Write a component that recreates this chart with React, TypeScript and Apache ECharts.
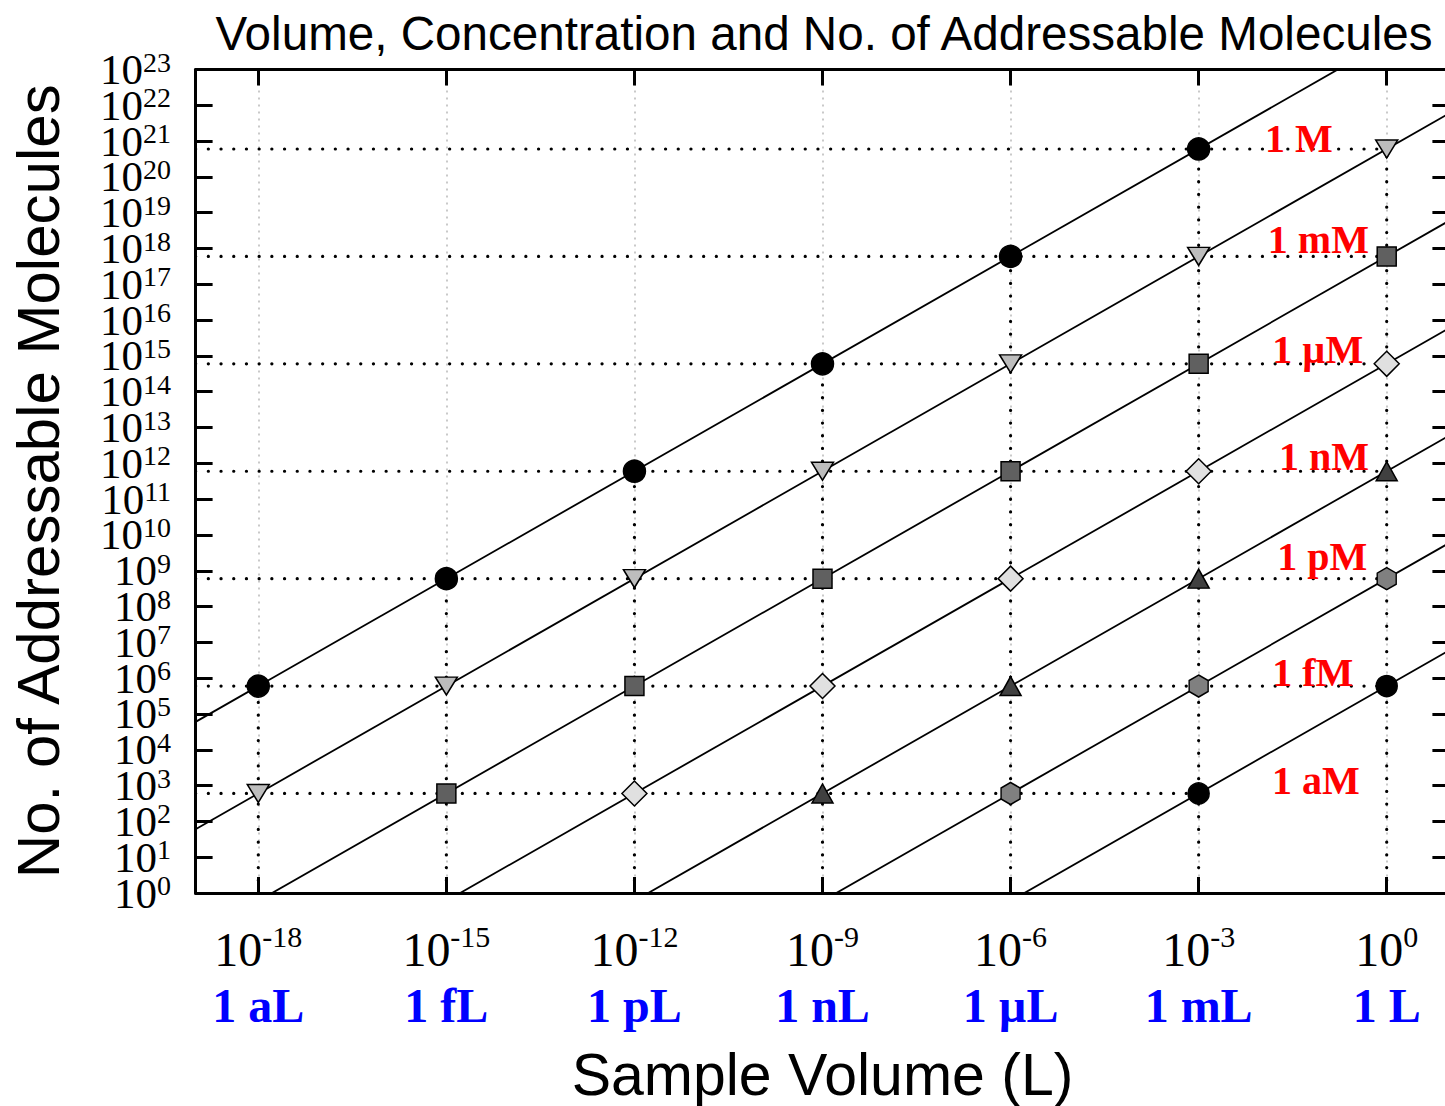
import React, { useEffect, useRef } from "react";
import * as echarts from "echarts";

// ---------- data ----------
const volumeUnits = ["1 aL", "1 fL", "1 pL", "1 nL", "1 µL", "1 mL", "1 L"];
const volumeTicks = [1e-18, 1e-15, 1e-12, 1e-9, 1e-6, 1e-3, 1];
const concentrationNames = ["1 M", "1 mM", "1 µM", "1 nM", "1 pM", "1 fM", "1 aM"];
// y tick labels: 10^0 … 10^23
const yTickExponents = [0, 1, 2, 3, 4, 5, 6, 7, 8, 9, 10, 11, 12, 13, 14, 15, 16, 17, 18, 19, 20, 21, 22, 23];

// markers: [sample volume (L), number of molecules]
const pts1M = [[1e-18, 6.022e5], [1e-15, 6.022e8], [1e-12, 6.022e11], [1e-9, 6.022e14], [1e-6, 6.022e17], [1e-3, 6.022e20]];
const pts1mM = [[1e-18, 6.022e2], [1e-15, 6.022e5], [1e-12, 6.022e8], [1e-9, 6.022e11], [1e-6, 6.022e14], [1e-3, 6.022e17], [1, 6.022e20]];
const pts1uM = [[1e-15, 6.022e2], [1e-12, 6.022e5], [1e-9, 6.022e8], [1e-6, 6.022e11], [1e-3, 6.022e14], [1, 6.022e17]];
const pts1nM = [[1e-12, 6.022e2], [1e-9, 6.022e5], [1e-6, 6.022e8], [1e-3, 6.022e11], [1, 6.022e14]];
const pts1pM = [[1e-9, 6.022e2], [1e-6, 6.022e5], [1e-3, 6.022e8], [1, 6.022e11]];
const pts1fM = [[1e-6, 6.022e2], [1e-3, 6.022e5], [1, 6.022e8]];
const pts1aM = [[1e-3, 6.022e2], [1, 6.022e5]];

// concentration lines: molecules at the left (1e-19 L) and right (10 L) plot edges
const lineVolumes = [1e-19, 10];
const lineLeft = [6.022e4, 6.022e1, 6.022e-2, 6.022e-5, 6.022e-8, 6.022e-11, 6.022e-14];
const lineRight = [6.022e24, 6.022e21, 6.022e18, 6.022e15, 6.022e12, 6.022e9, 6.022e6];

// axis ranges
const xRange = [1e-19, 10];
const yRange = [1, 1e23];

// where the red concentration labels sit (log10 of volume, log10 of molecules)
const concLabelAt = [
  [-1.4, 21.06],
  [-1.09, 18.24],
  [-1.1, 15.17],
  [-1.0, 12.19],
  [-1.03, 9.41],
  [-1.18, 6.16],
  [-1.13, 3.13],
];

// ---------- styling ----------
const SERIF = '"Liberation Serif", "DejaVu Serif", serif';
const SANS = '"Liberation Sans", Arial, sans-serif';
const HEX = "path://M0,-10L8.66,-5L8.66,5L0,10L-8.66,5L-8.66,-5Z";

const markerSets = [
  { data: pts1M, symbol: "circle", size: 22, color: "#000000", rotate: 0 },
  { data: pts1mM, symbol: "triangle", size: [22, 18], color: "#bdbdbd", rotate: 180 },
  { data: pts1uM, symbol: "rect", size: 19, color: "#606060", rotate: 0 },
  { data: pts1nM, symbol: "diamond", size: 25, color: "#e0e0e0", rotate: 0 },
  { data: pts1pM, symbol: "triangle", size: [21, 19], color: "#404040", rotate: 0 },
  { data: pts1fM, symbol: HEX, size: [19, 22], color: "#808080", rotate: 0 },
  { data: pts1aM, symbol: "circle", size: 21, color: "#000000", rotate: 0 },
];

const lg = (v: number) => Math.round(Math.log10(v));

export default function App() {
  const ref = useRef<HTMLDivElement>(null);

  useEffect(() => {
    const chart = echarts.init(ref.current!, null, { renderer: "svg" });

    const allPts: number[][] = ([] as number[][]).concat(
      pts1M, pts1mM, pts1uM, pts1nM, pts1pM, pts1fM, pts1aM
    );
    // drop lines: horizontal to the right-most marker of each level, vertical to the top-most marker of each volume
    const levels: Record<string, number> = {};
    const cols: Record<string, number> = {};
    allPts.forEach(([v, n]) => {
      const kl = String(lg(n));
      const kv = String(lg(v));
      levels[kl] = Math.max(levels[kl] ?? 0, v);
      cols[kv] = Math.max(cols[kv] ?? 0, n);
    });
    const dotted = {
      color: "#000",
      width: 3.2,
      type: [0.1, 12.6],
      cap: "round",
    };
    const dropSeries: any[] = [];
    const seenL: Record<string, boolean> = {};
    const seenV: Record<string, boolean> = {};
    allPts.forEach(([v, n]) => {
      const kl = String(lg(n));
      if (!seenL[kl]) {
        seenL[kl] = true;
        dropSeries.push({
          type: "line",
          data: [[xRange[0], n], [levels[kl], n]],
          symbol: "none",
          lineStyle: dotted,
          silent: true,
          z: 3,
        });
      }
      const kv = String(lg(v));
      if (!seenV[kv]) {
        seenV[kv] = true;
        dropSeries.push({
          type: "line",
          data: [[v, yRange[0]], [v, cols[kv]]],
          symbol: "none",
          lineStyle: dotted,
          silent: true,
          z: 3,
        });
      }
    });

    const concLines = lineLeft.map((l, i) => ({
      type: "line",
      data: [[lineVolumes[0], l], [lineVolumes[1], lineRight[i]]],
      symbol: "none",
      clip: true,
      lineStyle: { color: "#000", width: 1.8 },
      silent: true,
      z: 2,
    }));

    const markerSeries = markerSets.map((m) => ({
      type: "scatter",
      data: m.data,
      symbol: m.symbol,
      symbolSize: m.size,
      symbolRotate: m.rotate,
      symbolKeepAspect: false,
      itemStyle: {
        color: m.color,
        borderColor: "#000",
        borderWidth: 1.5,
        opacity: 1,
      },
      silent: true,
      z: 4,
    }));

    const labelSeries = {
      type: "scatter",
      data: concentrationNames.map((name, i) => ({
        name,
        value: [Math.pow(10, concLabelAt[i][0]), Math.pow(10, concLabelAt[i][1])],
      })),
      symbolSize: 1,
      itemStyle: { color: "#ffffff", opacity: 0 },
      label: {
        show: true,
        position: "inside",
        formatter: "{b}",
        color: "#ff0000",
        opacity: 1,
        textBorderWidth: 0,
        textBorderColor: "transparent",
        fontFamily: SERIF,
        fontWeight: "bold",
        fontSize: 40,
      },
      silent: true,
      z: 6,
    };

    // y tick labels (placed at the left edge of the plot, on the y scale)
    const yLabelSeries = {
      type: "scatter",
      clip: false,
      data: yTickExponents.map((e) => ({
        name: String(e),
        value: [xRange[0], Math.pow(10, e)],
      })),
      symbolSize: 1,
      itemStyle: { color: "#ffffff", opacity: 0 },
      label: {
        show: true,
        position: "left",
        distance: 24,
        color: "#000",
        opacity: 1,
        formatter: (p: any) => `{b|10}{s|${p.name}}`,
        textBorderWidth: 0,
        textBorderColor: "transparent",
        rich: {
          b: { fontFamily: SERIF, fontSize: 43, lineHeight: 43, color: "#000" },
          s: { fontFamily: SERIF, fontSize: 28, lineHeight: 26, verticalAlign: "top", color: "#000" },
        },
      },
      labelLayout: { hideOverlap: false },
      silent: true,
      z: 6,
    };

    const axisLine = { show: true, onZero: false, lineStyle: { color: "#000", width: 3 } };
    const tickStyle = { color: "#000", width: 3 };

    const xBase: any = {
      type: "log",
      logBase: 1000,
      min: xRange[0],
      max: xRange[1],
      axisLine,
      axisTick: { show: true, inside: true, length: 16, lineStyle: tickStyle },
      minorTick: { show: false },
      minorSplitLine: { show: false },
    };
    const yBase: any = {
      type: "log",
      logBase: 10,
      min: yRange[0],
      max: yRange[1],
      interval: 1,
      axisLine,
      axisTick: { show: true, inside: true, length: 17, lineStyle: tickStyle },
      axisLabel: { show: false },
      minorTick: { show: false },
      minorSplitLine: { show: false },
      splitLine: { show: false },
    };

    const option: any = {
      animation: false,
      backgroundColor: "#ffffff",
      grid: {
        left: 195.6,
        top: 69.5,
        width: 1253.8,
        height: 823.5,
        outerBoundsMode: "none",
        containLabel: false,
      },
      graphic: [
        {
          type: "text",
          x: 824,
          y: 33,
          style: {
            text: "Volume, Concentration and No. of Addressable Molecules",
            fontFamily: SANS,
            fontSize: 47.6,
            fill: "#000",
            align: "center",
            verticalAlign: "middle",
          },
        },
      ],
      xAxis: [
        {
          ...xBase,
          position: "bottom",
          splitLine: {
            show: true,
            lineStyle: { color: "#b8b8b8", width: 1.5, type: [2, 5] },
          },
          axisLabel: {
            margin: 28,
            showMinLabel: true,
            showMaxLabel: true,
            hideOverlap: false,
            formatter: (v: number) => {
              const e = lg(v);
              const i = volumeTicks.findIndex((t) => lg(t) === e);
              if (i < 0) return "";
              return `{b|10}{s|${e}}\n{u|${volumeUnits[i]}}`;
            },
            rich: {
              b: { fontFamily: SERIF, fontSize: 48, lineHeight: 56, color: "#000" },
              s: { fontFamily: SERIF, fontSize: 30, lineHeight: 38, verticalAlign: "top", color: "#000" },
              u: { fontFamily: SERIF, fontSize: 48, lineHeight: 56, fontWeight: "bold", color: "#0000ff" },
            },
          },
          name: "Sample Volume (L)",
          nameLocation: "middle",
          nameGap: 152,
          nameTextStyle: { fontFamily: SANS, fontSize: 59, color: "#000" },
        },
        {
          ...xBase,
          position: "top",
          axisLabel: { show: false },
          splitLine: { show: false },
        },
      ],
      yAxis: [
        {
          ...yBase,
          position: "left",
          name: "No. of Addressable Molecules",
          nameLocation: "middle",
          nameGap: 127,
          nameRotate: 90,
          nameTextStyle: { fontFamily: SANS, fontSize: 60, color: "#000" },
        },
        {
          ...yBase,
          position: "right",
        },
      ],
      series: [...concLines, ...dropSeries, ...markerSeries, labelSeries, yLabelSeries],
    };

    chart.setOption(option);
    return () => chart.dispose();
  }, []);

  return (
    <div
      ref={ref}
      style={{ position: "absolute", left: 0, top: 0, width: 1445, height: 1106, background: "#fff" }}
    />
  );
}
